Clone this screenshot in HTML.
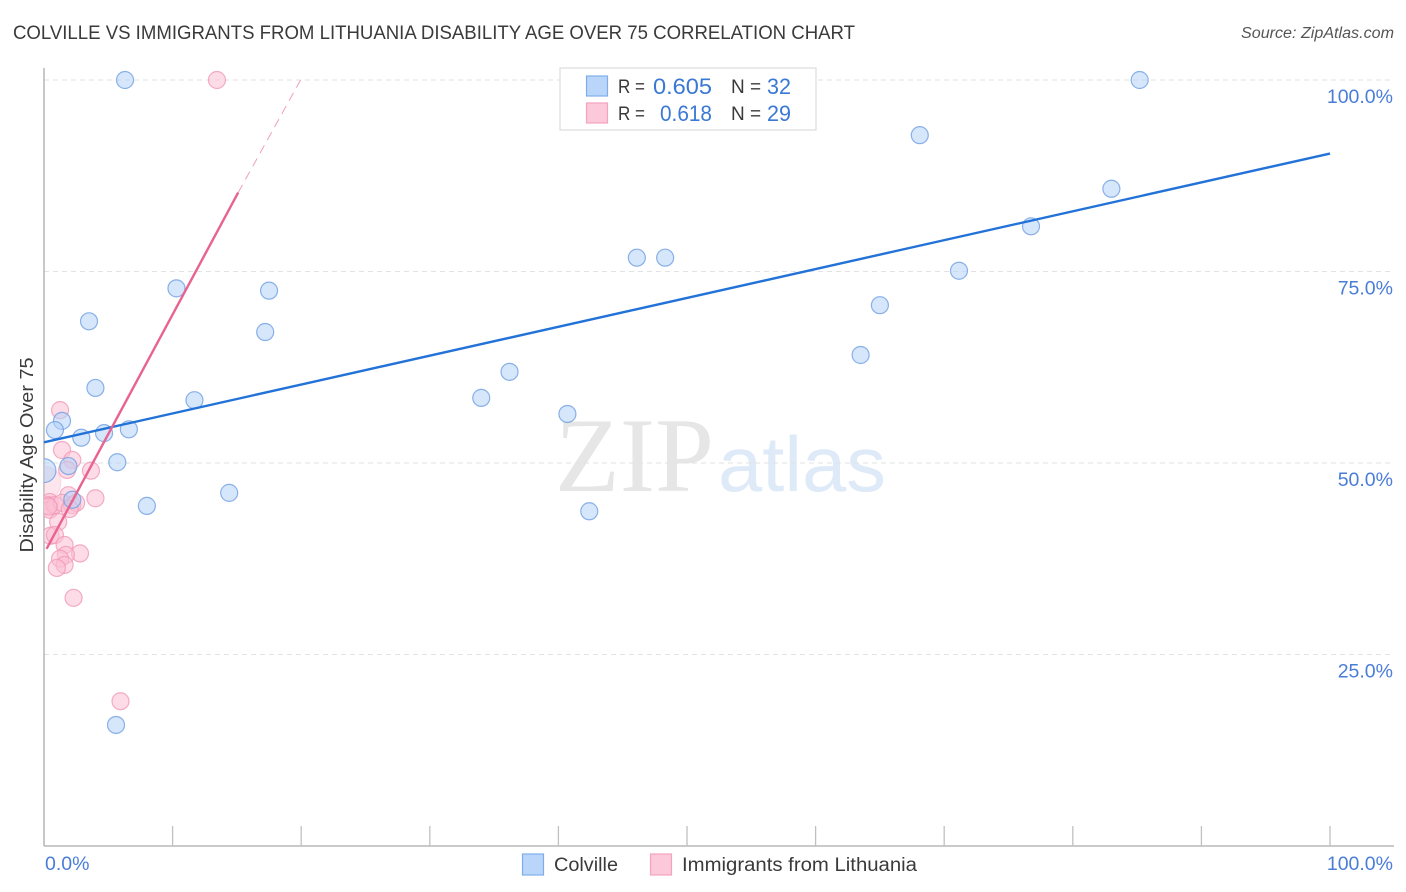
<!DOCTYPE html>
<html lang="en">
<head>
<meta charset="utf-8">
<title>Colville vs Immigrants from Lithuania Disability Age Over 75 Correlation Chart</title>
<style>
html,body{margin:0;padding:0;background:#fff;width:1406px;height:892px;overflow:hidden}
svg{display:block}
text{font-family:"Liberation Sans",sans-serif}
</style>
</head>
<body>
<svg id="chart" width="1406" height="892" viewBox="0 0 1406 892" xmlns="http://www.w3.org/2000/svg">
  <defs><clipPath id="plot-clip"><rect x="44" y="60" width="1350" height="786"></rect></clipPath></defs>
  <text x="13" y="39" font-size="19" fill="#3a3a3a" textLength="842" lengthAdjust="spacingAndGlyphs">COLVILLE VS IMMIGRANTS FROM LITHUANIA DISABILITY AGE OVER 75 CORRELATION CHART</text>
  <text x="1241" y="38" font-size="15.5" font-style="italic" fill="#555" textLength="153" lengthAdjust="spacingAndGlyphs">Source: ZipAtlas.com</text>
  <g>
    <text x="555" y="491" font-size="106" fill="#e6e6e6" textLength="159" lengthAdjust="spacingAndGlyphs" style="font-family:'Liberation Serif',serif">ZIP</text>
    <text x="718" y="491" font-size="78" fill="#deeaf8" textLength="168" lengthAdjust="spacingAndGlyphs">atlas</text>
  </g>
  <g id="grid"></g>
  <g id="axes"></g>
  <g id="points" clip-path="url(#plot-clip)"></g>
  <g id="trends"></g>
  <text transform="translate(33 455) rotate(-90)" font-size="18.5" fill="#3a3a3a" text-anchor="middle" textLength="195" lengthAdjust="spacingAndGlyphs">Disability Age Over 75</text>
  <g>
    <rect x="560" y="68" width="256" height="62" fill="#fff" stroke="#ddd" stroke-width="1.2"></rect>
    <rect x="586.5" y="76" width="21" height="20" fill="#b9d5f9" stroke="#7eaee8" stroke-width="1.2"></rect>
    <rect x="586.5" y="103" width="21" height="20" fill="#fcc9da" stroke="#f3a3bd" stroke-width="1.2"></rect>
    <text x="618" y="93" font-size="19" fill="#3a3a3a" textLength="27" lengthAdjust="spacingAndGlyphs">R =</text>
    <text x="653" y="94" font-size="22" fill="#3a78d6" textLength="59" lengthAdjust="spacingAndGlyphs">0.605</text>
    <text x="731" y="93" font-size="19" fill="#3a3a3a">N =</text>
    <text x="767" y="94" font-size="22" fill="#3a78d6" textLength="24" lengthAdjust="spacingAndGlyphs">32</text>
    <text x="618" y="120" font-size="19" fill="#3a3a3a" textLength="27" lengthAdjust="spacingAndGlyphs">R =</text>
    <text x="660" y="121" font-size="22" fill="#3a78d6" textLength="52" lengthAdjust="spacingAndGlyphs">0.618</text>
    <text x="731" y="120" font-size="19" fill="#3a3a3a">N =</text>
    <text x="767" y="121" font-size="22" fill="#3a78d6" textLength="24" lengthAdjust="spacingAndGlyphs">29</text>
  </g>
  <g>
    <rect x="522.5" y="854" width="21" height="21" fill="#b9d5f9" stroke="#7eaee8" stroke-width="1.2"></rect>
    <text x="554" y="871" font-size="19" fill="#3a3a3a" textLength="64" lengthAdjust="spacingAndGlyphs">Colville</text>
    <rect x="650.5" y="854" width="21" height="21" fill="#fcc9da" stroke="#f3a3bd" stroke-width="1.2"></rect>
    <text x="682" y="871" font-size="19" fill="#3a3a3a" textLength="235" lengthAdjust="spacingAndGlyphs">Immigrants from Lithuania</text>
  </g>
</svg>
<script>
const yTickValues = [25, 50, 75, 100];
const yTickLabels = ['25.0%', '50.0%', '75.0%', '100.0%'];
const xTickValues = [10, 20, 30, 40, 50, 60, 70, 80, 90, 100];
const xEndValues = [0, 100];
const xEndLabels = ['0.0%', '100.0%'];

const colvilleX = [6.3, 85.2, 68.1, 83.0, 76.75, 46.1, 48.3, 71.15, 10.3, 17.5, 65.0, 3.5, 17.2, 63.5, 36.2, 4.0, 34.0, 11.7, 40.7, 1.4, 0.85, 6.6, 4.67, 2.9, 1.9, 5.7, 0.0, 14.4, 8.0, 2.2, 42.4, 5.6];
const colvilleY = [100, 100, 92.8, 85.8, 80.9, 76.8, 76.8, 75.1, 72.8, 72.5, 70.6, 68.5, 67.1, 64.1, 61.9, 59.8, 58.5, 58.2, 56.4, 55.5, 54.3, 54.4, 53.9, 53.3, 49.6, 50.1, 49.0, 46.1, 44.4, 45.2, 43.7, 15.8];
const colvilleWeight = [1, 1, 1, 1, 1, 1, 1, 1, 1, 1, 1, 1, 1, 1, 1, 1, 1, 1, 1, 1, 1, 1, 1, 1, 1, 1, 1.4, 1, 1, 1, 1, 1];

const lithuaniaX = [13.45, 1.25, 1.4, 2.2, 1.8, 3.65, 0.0, 4.0, 1.9, 0.45, 0.3, 0.45, 0.85, 1.4, 2.2, 2.5, 2.0, 1.1, 0.5, 0.85, 1.6, 2.8, 1.7, 1.25, 1.6, 1.0, 2.3, 5.95, 0.35];
const lithuaniaY = [100, 56.9, 51.7, 50.4, 49.1, 49.0, 47.4, 45.4, 45.8, 44.9, 44.5, 43.9, 44.5, 44.8, 44.5, 44.8, 44.0, 42.3, 40.5, 40.6, 39.3, 38.2, 38.0, 37.5, 36.7, 36.3, 32.4, 18.9, 44.3];
const lithuaniaWeight = [1, 1, 1, 1, 1, 1, 2, 1, 1, 1, 1, 1, 1, 1, 1, 1, 1, 1, 1, 1, 1, 1, 1, 1, 1, 1, 1, 1, 1];

const colvilleTrendX = [0, 100];
const colvilleTrendY = [52.7, 90.4];
const lithuaniaTrendX = [0.2, 15.1];
const lithuaniaTrendY = [38.8, 85.3];
const lithuaniaExtX = [15.1, 19.95];
const lithuaniaExtY = [85.3, 100];

const SVGNS = 'http://www.w3.org/2000/svg';
const xScale = v => 44 + v * 12.86;
const yScale = v => 846 - v * 7.66;
const gGrid = document.getElementById('grid');
const gAxes = document.getElementById('axes');
const gPoints = document.getElementById('points');
const gTrends = document.getElementById('trends');

function make(tag, attrs, parent) {
  const el = document.createElementNS(SVGNS, tag);
  for (const k in attrs) el.setAttribute(k, attrs[k]);
  parent.appendChild(el);
  return el;
}

yTickValues.forEach((v, i) => {
  const line = make('line', {x1: 44, x2: 1393, y1: yScale(v), y2: yScale(v), stroke: '#e2e2e2', 'stroke-width': 1, 'stroke-dasharray': '5 4'}, gGrid);
  
  
  const label = make('text', {x: 1393, y: yScale(v) + 23, 'text-anchor': 'end', 'font-size': 19.5, fill: '#4a7dd8'}, gAxes);
  label.textContent = yTickLabels[i];
  
  
});

const yAxisLine = make('line', {x1: 44, x2: 44, y1: 68, y2: 846, stroke: '#aaa', 'stroke-width': 1.3}, gAxes);


const xAxisLine = make('line', {x1: 44, x2: 1394, y1: 846, y2: 846, stroke: '#aaa', 'stroke-width': 1.3}, gAxes);



xTickValues.forEach(v => {
  const tick = make('line', {x1: xScale(v), x2: xScale(v), y1: 826, y2: 846, stroke: '#c0c0c0', 'stroke-width': 1.3}, gAxes);
  
  
});

xEndValues.forEach((v, i) => {
  const label = make('text', {x: i === 0 ? xScale(v) + 1 : xScale(v) + 63, y: 870, 'text-anchor': i === 0 ? 'start' : 'end', 'font-size': 19.5, fill: '#4a7dd8'}, gAxes);
  label.textContent = xEndLabels[i];
  
  
});

function drawSeries(xs, ys, weights, fill, stroke, name) {
  xs.forEach((x, i) => {
    const c = make('circle', {cx: xScale(x), cy: yScale(ys[i]), r: 8.5 * weights[i], fill: fill, 'fill-opacity': weights[i] > 1.5 ? 0.4 : 0.55, stroke: stroke, 'stroke-opacity': weights[i] > 1.5 ? 0.25 : 0.8, 'stroke-width': 1.2}, gPoints);
    
    
  });
}
drawSeries(lithuaniaX, lithuaniaY, lithuaniaWeight, '#fbbfd3', '#f09ab6', 'lithuania-point');
drawSeries(colvilleX, colvilleY, colvilleWeight, '#b5d2f7', '#6f9fe2', 'colville-point');

const colvilleTrend = make('line', {x1: xScale(colvilleTrendX[0]), y1: yScale(colvilleTrendY[0]), x2: xScale(colvilleTrendX[1]), y2: yScale(colvilleTrendY[1]), stroke: '#2272d8', 'stroke-width': 2.4}, gTrends);


const lithuaniaTrend = make('line', {x1: xScale(lithuaniaTrendX[0]), y1: yScale(lithuaniaTrendY[0]), x2: xScale(lithuaniaTrendX[1]), y2: yScale(lithuaniaTrendY[1]), stroke: '#e8638f', 'stroke-width': 2.4}, gTrends);


const lithuaniaExt = make('line', {x1: xScale(lithuaniaExtX[0]), y1: yScale(lithuaniaExtY[0]), x2: xScale(lithuaniaExtX[1]), y2: yScale(lithuaniaExtY[1]), stroke: '#efa0bb', 'stroke-width': 1, 'stroke-dasharray': '9 6'}, gTrends);


</script>
</body>
</html>
